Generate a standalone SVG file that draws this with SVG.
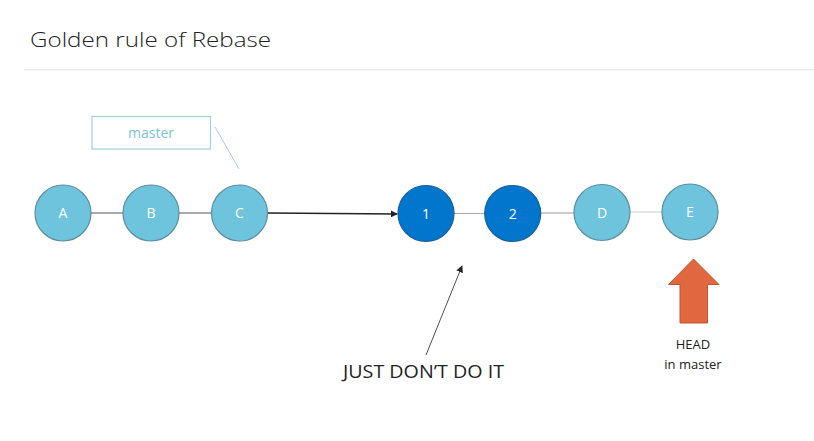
<svg xmlns="http://www.w3.org/2000/svg" width="814" height="441" viewBox="0 0 814 441">
<style>
.lt{fill:#6EC4DD;stroke:#5B8E9E;stroke-width:1.2}
.dk{fill:#0176CC;stroke:#17609A;stroke-width:1.2}
.lbl{font-family:"Open Sans","Liberation Sans",sans-serif;font-size:14px;fill:#fff;text-anchor:middle}
.txt{font-family:"Open Sans","Liberation Sans",sans-serif;fill:#222}
</style>
<defs>
<marker id="ah" viewBox="0 0 10 10" refX="9" refY="5" markerWidth="7" markerHeight="7" orient="auto" markerUnits="userSpaceOnUse">
<path d="M0,0 L10,5 L0,10 z" fill="#222"/>
</marker>
</defs>
<rect width="814" height="441" fill="#fff"/>
<text class="txt" x="30" y="47" font-size="21" font-weight="300" fill="#333" textLength="241" lengthAdjust="spacingAndGlyphs">Golden rule of Rebase</text>
<rect x="24" y="69" width="790" height="1.5" fill="#eeeeee"/>
<g id="connectors">
<line x1="91" y1="213" x2="123" y2="213" stroke="#555" stroke-width="1"/>
<line x1="179" y1="213" x2="212" y2="213" stroke="#555" stroke-width="1"/>
<line x1="268" y1="213" x2="397" y2="214" stroke="#222" stroke-width="1.3" marker-end="url(#ah)"/>
<line x1="454" y1="213.5" x2="485" y2="213.5" stroke="#aaa" stroke-width="1"/>
<line x1="541" y1="213" x2="574" y2="213" stroke="#999" stroke-width="1"/>
<line x1="630" y1="212" x2="662" y2="212" stroke="#ccc" stroke-width="1"/>
<line x1="215" y1="127" x2="239" y2="169" stroke="#9ED0E0" stroke-width="1"/>
<line x1="426" y1="355" x2="462" y2="266" stroke="#222" stroke-width="0.8" marker-end="url(#ah)"/>
</g>
<g id="node-master">
<rect x="92" y="116.5" width="118.5" height="32.5" fill="#fff" stroke="#9ED0E0" stroke-width="1.2"/>
<text x="151" y="138" font-family="'Open Sans','Liberation Sans',sans-serif" font-size="14" fill="#7EC3D9" text-anchor="middle">master</text>
</g>
<g id="node-A"><circle class="lt" cx="63" cy="213" r="28"/><text class="lbl" x="63" y="218">A</text></g>
<g id="node-B"><circle class="lt" cx="151" cy="213" r="28"/><text class="lbl" x="151" y="218">B</text></g>
<g id="node-C"><circle class="lt" cx="239.5" cy="213" r="28"/><text class="lbl" x="239.5" y="218">C</text></g>
<g id="node-1"><circle class="dk" cx="426" cy="213.5" r="28"/><text class="lbl" x="426" y="218.5">1</text></g>
<g id="node-2"><circle class="dk" cx="512.7" cy="213.5" r="28"/><text class="lbl" x="512.7" y="218.5">2</text></g>
<g id="node-D"><circle class="lt" cx="602" cy="212.5" r="28"/><text class="lbl" x="602" y="217.5">D</text></g>
<g id="node-E"><circle class="lt" cx="690" cy="212" r="28"/><text class="lbl" x="690" y="217">E</text></g>
<g id="head-arrow">
<path d="M693.5,259 L719,284.5 L707.5,284.5 L707.5,323 L680,323 L680,284.5 L668.5,284.5 Z" fill="#E0673F" stroke="#C0552F" stroke-width="1"/>
<text class="txt" x="693" y="349" font-size="13" text-anchor="middle">HEAD</text>
<text class="txt" x="693" y="369" font-size="13" text-anchor="middle">in master</text>
</g>
<text class="txt" x="343" y="378" font-size="19" textLength="161" lengthAdjust="spacingAndGlyphs">JUST DON’T DO IT</text>
</svg>
